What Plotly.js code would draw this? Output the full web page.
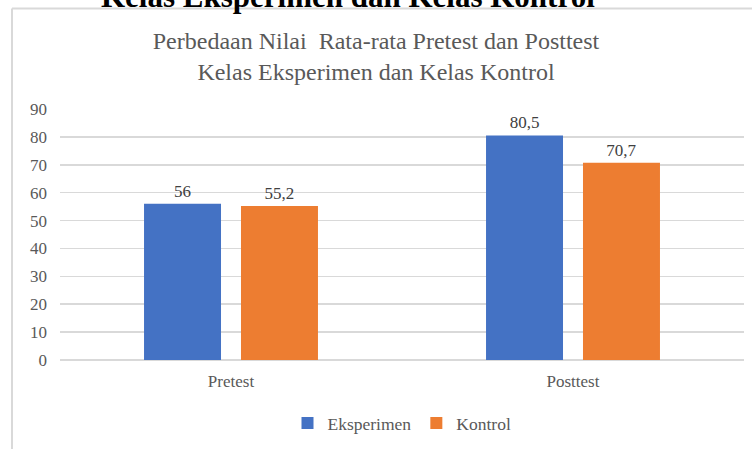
<!DOCTYPE html>
<html><head><meta charset="utf-8">
<script src="https://cdn.plot.ly/plotly-3.0.1.min.js"></script>
<style>html,body{margin:0;padding:0;background:#fff}#c{width:752px;height:449px}</style>
</head><body><div id="c"></div>
<script>
const categories = ["Pretest", "Posttest"];
const seriesNames = ["Eksperimen", "Kontrol"];
const eksperimen = [56, 80.5];
const kontrol = [55.2, 70.7];
const colors = ["#4472C4", "#ED7D31"];
const yTicks = [0,10,20,30,40,50,60,70,80,90];

const fmt = v => String(v).replace('.', ',');
const font = "Liberation Serif";
const traces = [eksperimen, kontrol].map((vals, i) => ({
  type: 'bar', name: seriesNames[i], x: categories, y: vals,
  marker: {color: colors[i]},
  text: vals.map(fmt), textposition: 'outside', cliponaxis: false,
  textfont: {family: font, size: 17, color: '#404040'},
  hoverinfo: 'none'
}));

const L = 60, T = 109, W = 684, H = 251;
const px = p => (p - L) / W, py = p => (T + H - p) / H;

const layout = {
  width: 752, height: 449,
  margin: {l: L, r: 752 - L - W, t: T, b: 449 - T - H},
  paper_bgcolor: '#fff', plot_bgcolor: '#fff',
  font: {family: font, color: '#595959', size: 17},
  title: {text: "Perbedaan Nilai\u00a0 Rata-rata Pretest dan Posttest<br>Kelas Eksperimen dan Kelas Kontrol",
    font: {family: font, size: 24, color: '#595959'}, x: 0.5, xanchor: 'center', y: 1 - 49/449, yanchor: 'middle'},
  barmode: 'group', bargap: 0.433, bargroupgap: 0.206,
  xaxis: {showgrid: false, showline: false, zeroline: false, ticks: '', tickfont: {family: font, size: 17, color: '#595959'}, ticklabelstandoff: 9},
  yaxis: {range: [0, 90], tickvals: yTicks, showgrid: true, gridcolor: '#d9d9d9', gridwidth: 1.5,
    zeroline: true, zerolinecolor: '#d9d9d9', zerolinewidth: 1.5, showline: false, ticks: '',
    tickfont: {family: font, size: 17, color: '#595959'}, ticklabelstandoff: 12},
  showlegend: true,
  legend: {orientation: 'h', x: 0.5, xanchor: 'center', y: py(423), yanchor: 'middle',
    font: {family: font, size: 17.5, color: '#595959'}, itemwidth: 30, traceorder: 'normal'},
  shapes: [
    {type: 'line', xref: 'paper', yref: 'paper', x0: px(12), x1: px(12), y0: py(449), y1: py(8.5), line: {color: '#d9d9d9', width: 2}},
    {type: 'line', xref: 'paper', yref: 'paper', x0: px(12), x1: px(752), y0: py(8.5), y1: py(8.5), line: {color: '#d9d9d9', width: 2}}
  ],
  annotations: [
    {text: "<b>Kelas Eksperimen dan Kelas Kontrol</b>", xref: 'paper', yref: 'paper', x: px(348), y: py(-3), xanchor: 'center', yanchor: 'middle',
     showarrow: false, font: {family: font, size: 31, color: '#000'}}
  ]
};
Plotly.newPlot('c', traces, layout, {displayModeBar: false, staticPlot: true});
</script></body></html>
